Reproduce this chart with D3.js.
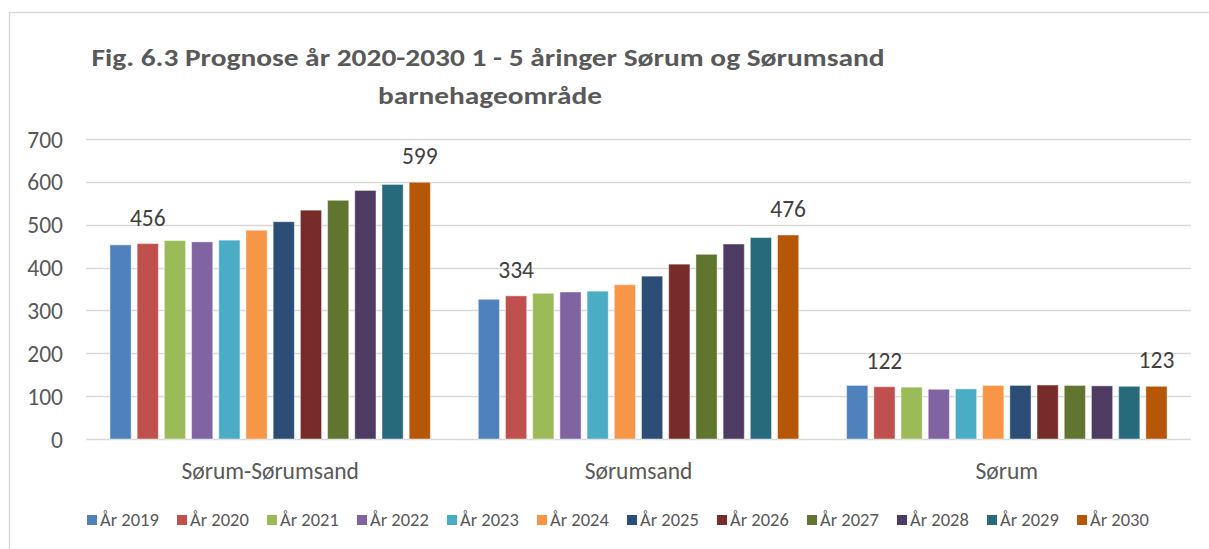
<!DOCTYPE html>
<html><head><meta charset="utf-8">
<script src="https://cdn.jsdelivr.net/npm/d3@7"></script>
<style>
html,body{margin:0;padding:0;background:#fff;}
svg{display:block;}
</style></head>
<body>
<svg id="chart" width="1209" height="549"></svg>
<script>
const categories = ["Sørum-Sørumsand", "Sørumsand", "Sørum"];
const seriesNames = ["År 2019","År 2020","År 2021","År 2022","År 2023","År 2024","År 2025","År 2026","År 2027","År 2028","År 2029","År 2030"];
const colors = ["#4F81BD","#C0504D","#9BBB59","#8064A2","#4BACC6","#F79646","#2C4D75","#772C2A","#5F7530","#4D3B62","#276A7C","#B65708"];
// values per series, in category order
const sorumSorumsand = [453, 456, 463, 460, 464, 487, 507, 534, 557, 580, 594, 599];
const sorumsand      = [326, 334, 340, 343, 345, 360, 380, 408, 431, 455, 470, 476];
const sorum          = [125, 122, 121, 116, 117, 125, 125, 126, 125, 124, 123, 123];
const yTicks = [0,100,200,300,400,500,600,700];
// labelled points: [categoryIndex, seriesIndex]
const labelled = [[0,1],[0,11],[1,1],[1,11],[2,1],[2,11]];
const titleLines = ["Fig. 6.3 Prognose år 2020-2030 1 - 5 åringer Sørum og Sørumsand", "barnehageområde"];

const valuesByCat = [sorumSorumsand, sorumsand, sorum];
const FONT = "Carlito, Lato, 'Open Sans', sans-serif";

const svg = d3.select("#chart");
const plot = {left: 86, right: 1191, top: 139, bottom: 439};

// chart border
svg.append("path").attr("d", "M9.5,549 L9.5,12.5 L1209,12.5")
  .attr("fill","none").attr("stroke","#d9d9d9").attr("stroke-width",1.5);

const y = d3.scaleLinear().domain([0,700]).range([plot.bottom, plot.top]);
const x0 = d3.scaleBand().domain(categories).range([plot.left, plot.right]).paddingInner(0.13).paddingOuter(0.065);
const x1 = d3.scaleBand().domain(seriesNames).range([0, x0.bandwidth()]).paddingInner(0.22).paddingOuter(0);

// gridlines
svg.append("g").selectAll("line").data(yTicks).join("line")
  .attr("x1", plot.left).attr("x2", plot.right)
  .attr("y1", d => Math.round(y(d))+0.5).attr("y2", d => Math.round(y(d))+0.5)
  .attr("stroke", "#d9d9d9").attr("stroke-width", 1.5);

// y axis labels
const yAxis = d3.axisLeft(y).tickValues(yTicks).tickSize(0).tickPadding(0);
const gy = svg.append("g").attr("transform", `translate(63,0)`).call(yAxis);
gy.select(".domain").remove();
gy.selectAll("text").attr("font-family",FONT).attr("font-size", 23.5).attr("fill","#595959").attr("dy","0.34em");

// bars
const groups = svg.append("g").selectAll("g").data(categories).join("g")
  .attr("transform", d => `translate(${x0(d)},0)`);
groups.selectAll("rect").data((c,ci) => seriesNames.map((s,si) => ({s, si, v: valuesByCat[ci][si]}))).join("rect")
  .attr("x", d => x1(d.s)).attr("width", x1.bandwidth())
  .attr("y", d => y(d.v)).attr("height", d => y(0) - y(d.v))
  .attr("fill", d => colors[d.si])
  .attr("stroke", "#ffffff").attr("stroke-opacity", 0.45).attr("stroke-width", 1);

// data labels
svg.append("g").selectAll("text").data(labelled).join("text")
  .attr("x", d => x0(categories[d[0]]) + x1(seriesNames[d[1]]) + x1.bandwidth()/2)
  .attr("y", d => y(valuesByCat[d[0]][d[1]]) - 18)
  .attr("text-anchor","middle")
  .attr("font-family",FONT).attr("font-size", 23.5).attr("fill","#404040")
  .text(d => valuesByCat[d[0]][d[1]]);

// category axis
const xAxis = d3.axisBottom(x0).tickSize(0).tickPadding(0);
const gx = svg.append("g").attr("transform", `translate(0,${plot.bottom})`).call(xAxis);
gx.select(".domain").remove();
gx.selectAll("text").attr("font-family",FONT).attr("font-size", 23.5).attr("fill","#595959").attr("dy", null).attr("y", 40);

// title
svg.append("text").attr("x", 488).attr("y", 66).attr("text-anchor","middle")
  .attr("font-family",FONT).attr("font-weight","bold").attr("font-size", 25).attr("fill","#595959")
  .attr("textLength", 793).attr("lengthAdjust","spacingAndGlyphs").text(titleLines[0]);
svg.append("text").attr("x", 490).attr("y", 104).attr("text-anchor","middle")
  .attr("font-family",FONT).attr("font-weight","bold").attr("font-size", 25).attr("fill","#595959")
  .attr("textLength", 224).attr("lengthAdjust","spacingAndGlyphs").text(titleLines[1]);

// legend
const legend = svg.append("g").selectAll("g").data(seriesNames).join("g")
  .attr("transform", (d,i) => `translate(${87 + i*90},520)`);
legend.append("rect").attr("x",0).attr("y",-5).attr("width",10).attr("height",10).attr("fill",(d,i)=>colors[i]);
legend.append("text").attr("x",13).attr("y",0).attr("dy","0.34em")
  .attr("font-family",FONT).attr("font-size",18.5).attr("fill","#595959").text(d=>d);
</script>
</body></html>
